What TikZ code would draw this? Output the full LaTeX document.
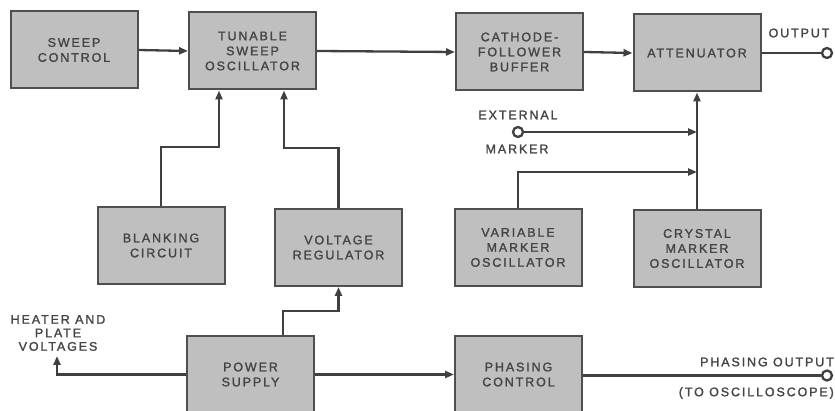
\documentclass[tikz,border=0pt]{standalone}
\usepackage{fontspec}
\setmainfont[LetterSpace=15,FakeBold=1.6]{Liberation Sans}
\usetikzlibrary{arrows.meta}
\definecolor{boxfill}{HTML}{BFBFBF}
\definecolor{boxline}{HTML}{4F4F4F}
\definecolor{wire}{HTML}{404040}
\definecolor{ink}{HTML}{454545}
\tikzset{
  blk/.style={draw=boxline, line width=2pt, fill=boxfill, minimum width=127pt, minimum height=77pt,
    align=center, text=ink, inner sep=0pt, font=\fontsize{12.5}{15}\selectfont},
  wireline/.style={draw=wire, line width=2.3pt},
  arr/.style={wireline, -{Triangle[length=9pt,width=7pt]}},
  term/.style={circle, draw=wire, line width=2.3pt, fill=white, minimum size=10pt, inner sep=0pt},
  lbl/.style={text=ink, inner sep=0pt, font=\fontsize{12.5}{13.5}\selectfont, align=center}
}
\begin{document}
\begin{tikzpicture}[x=1pt, y=-1pt]
\useasboundingbox (0,0) rectangle (835,411);
\begin{scope}
\clip (0,0) rectangle (835,411);
% boxes
\node[blk] (sc)  at (74,50)    {SWEEP\\CONTROL};
\node[blk] (tso) at (252.5,51) {TUNABLE\\SWEEP\\OSCILLATOR};
\node[blk] (cfb) at (519.5,52) {CATHODE-\\FOLLOWER\\BUFFER};
\node[blk] (att) at (697,53)   {ATTENUATOR};
\node[blk] (bc)  at (161,245.5)  {BLANKING\\CIRCUIT};
\node[blk] (vr)  at (338.5,247.5) {VOLTAGE\\REGULATOR};
\node[blk] (vmo) at (518,247.5)  {VARIABLE\\MARKER\\OSCILLATOR};
\node[blk] (cmo) at (697,248.5)  {CRYSTAL\\MARKER\\OSCILLATOR};
\node[blk] (ps)  at (250.5,374.5) {POWER\\SUPPLY};
\node[blk] (pc)  at (518.5,374.5) {PHASING\\CONTROL};
\end{scope}

% terminals
\node[term] (out1) at (827,53) {};
\node[term] (ext)  at (518,132) {};
\node[term] (out2) at (827,375.5) {};

% junction coordinates
\coordinate (j1) at (219,147);
\coordinate (j2) at (284,148);
\coordinate (j3) at (283,311);
\coordinate (j4) at (697,172);
\coordinate (ht) at (57,356);

% labels
\node[lbl] (louT) at (799,33) {OUTPUT};
\node[lbl] (lext) at (518,115) {EXTERNAL};
\node[lbl] (lmrk) at (517,149) {MARKER};
\node[lbl] (lhtr) at (58,333) {HEATER AND\\PLATE\\VOLTAGES};
\node[lbl, anchor=east] (lpo) at (834,362) {PHASING OUTPUT};
\node[lbl, anchor=east] (lto) at (834,393) {(TO OSCILLOSCOPE)};

% connectors
\draw[arr] (sc.east) -- (tso.west);
\draw[arr] (tso.east) -- (cfb.west);
\draw[arr] (cfb.east) -- (att.west);
\draw[wireline] (att.east) -- (out1.west);
\draw[arr] (bc.north) |- (j1) -- (j1 |- tso.south);
\draw[arr] (vr.north) |- (j2) -- (j2 |- tso.south);
\draw[arr] (cmo.north) -- (att.south);
\draw[arr] (ext.east) -- (ext -| cmo.north);
\draw[arr] (vmo.north) |- (j4);
\draw[arr] (j3 |- ps.north) -- (j3) -| (vr.south);
\draw[arr] (ps.west) -| (ht);
\draw[arr] (ps.east) -- (pc.west);
\draw[wireline] (pc.east |- out2) -- (out2.west);
\end{tikzpicture}
\end{document}
